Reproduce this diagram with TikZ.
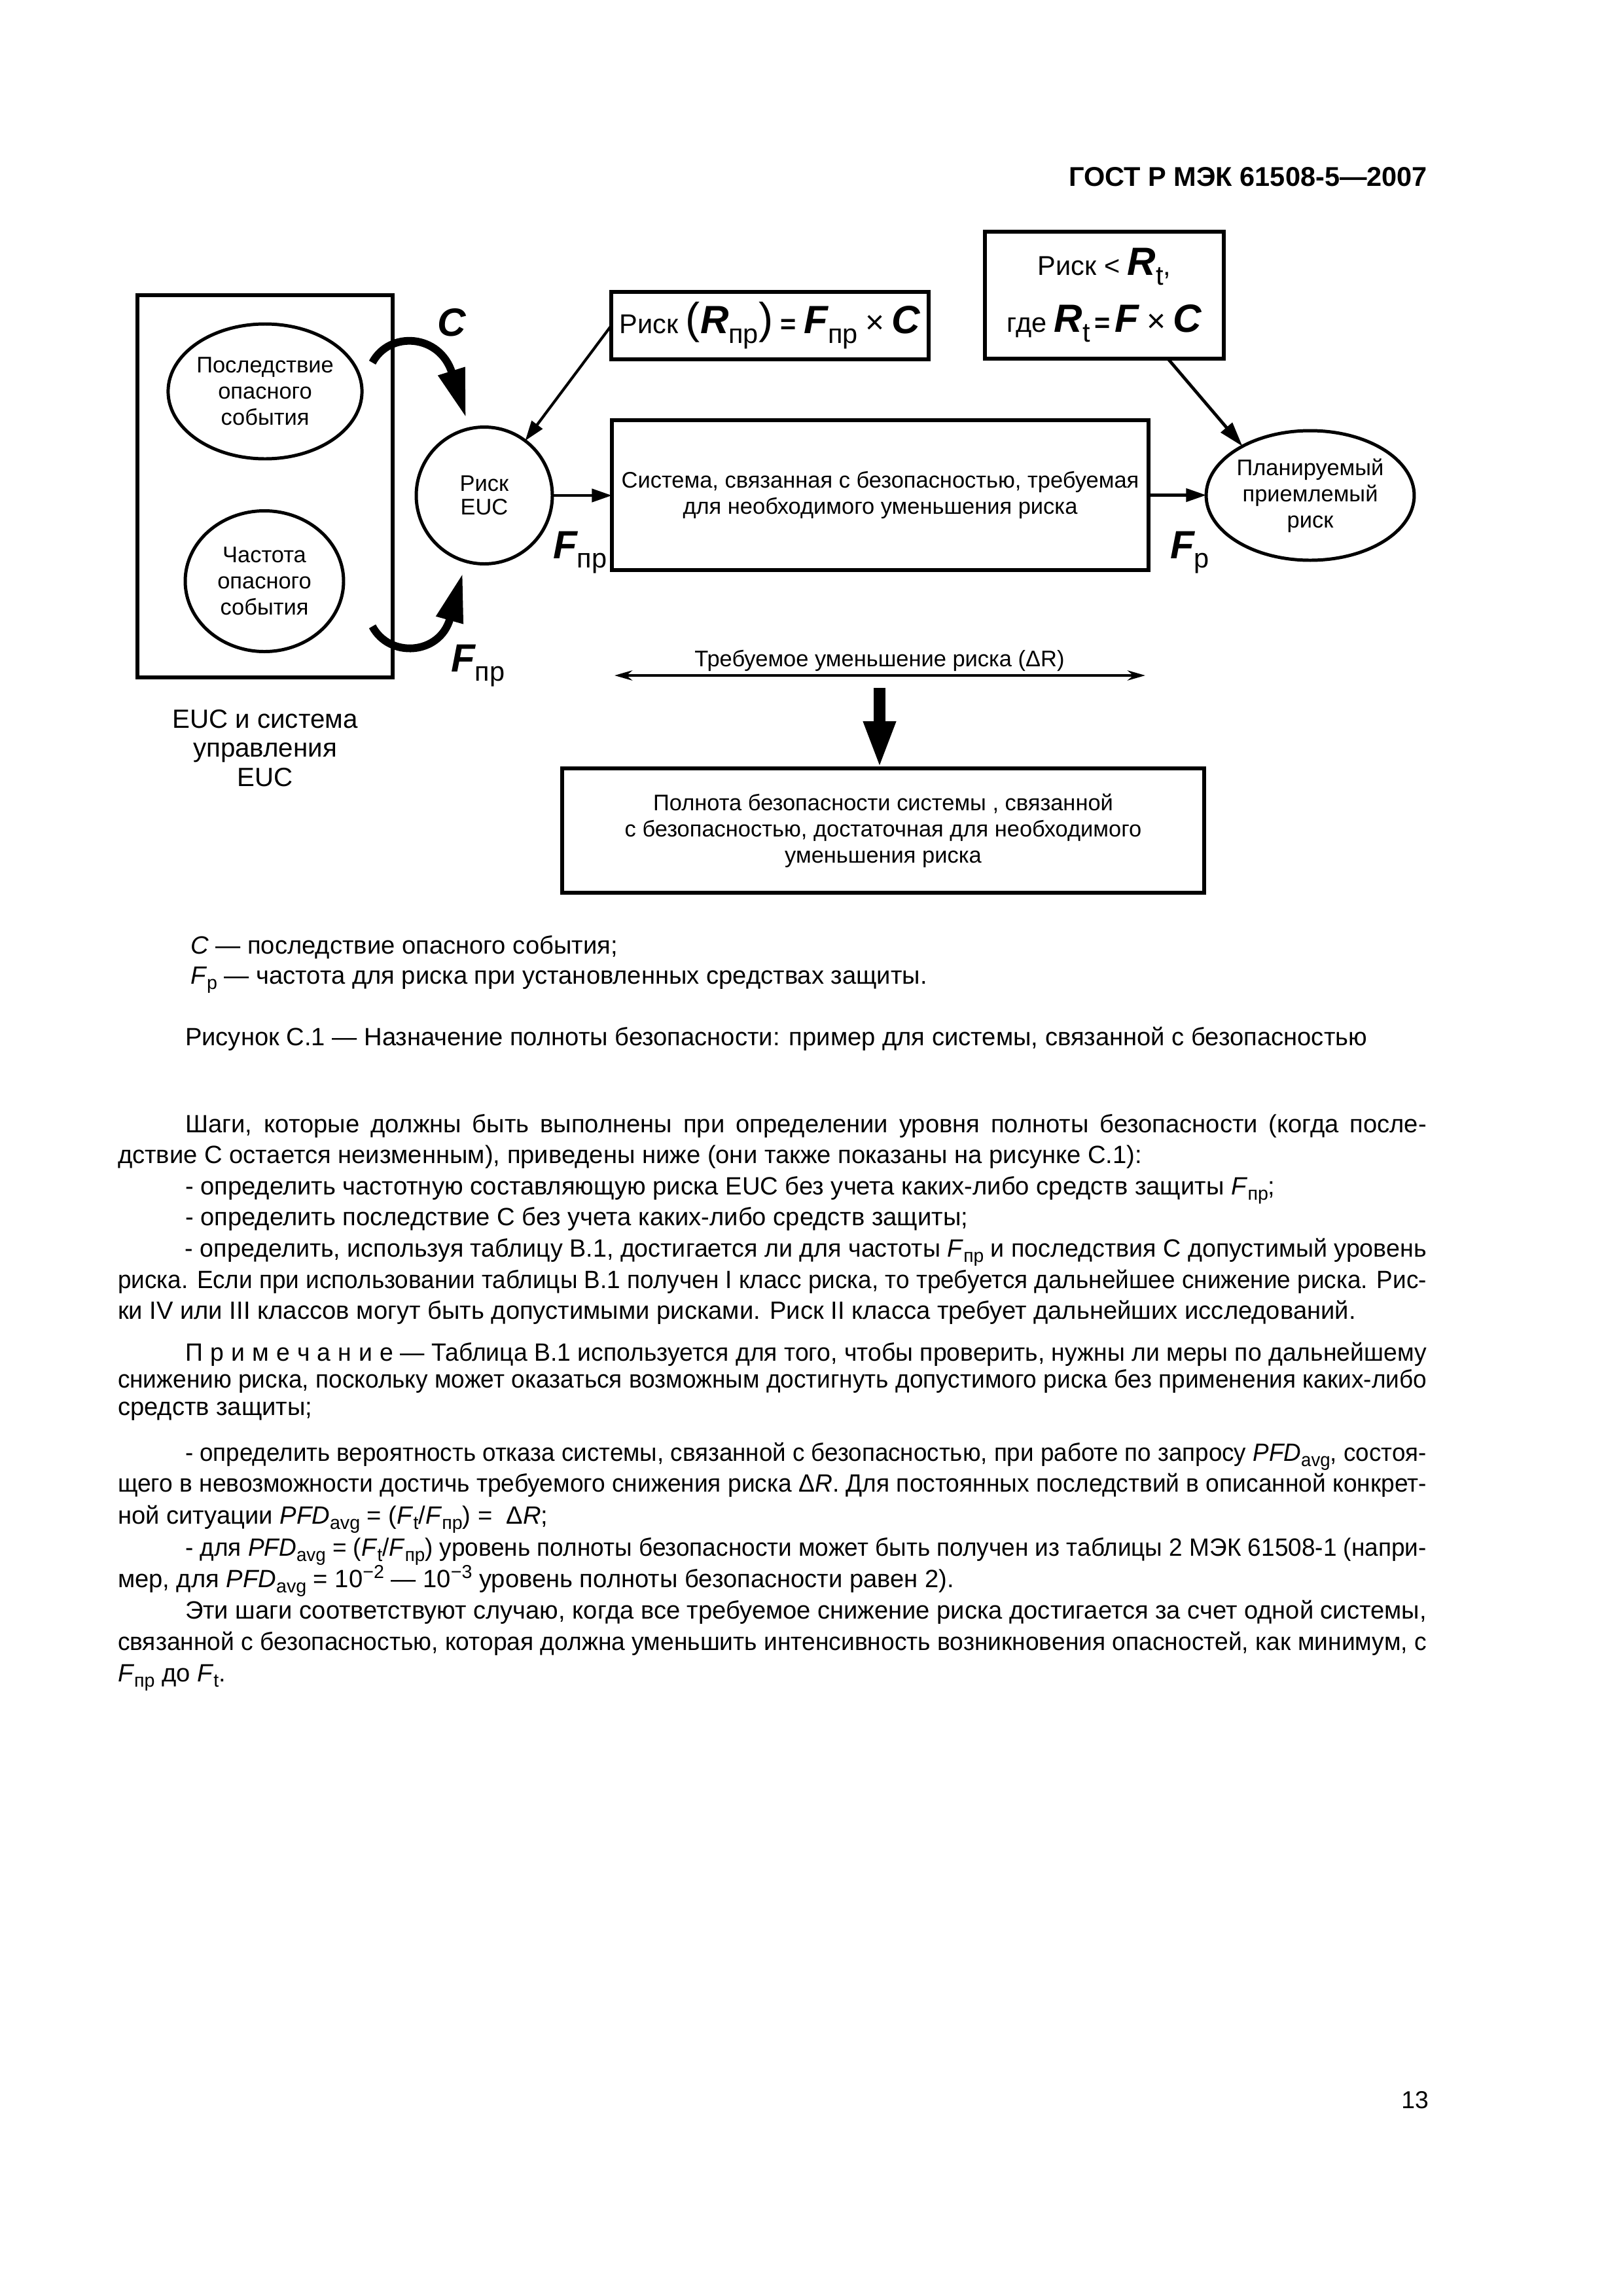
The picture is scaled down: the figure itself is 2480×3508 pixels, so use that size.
\documentclass[tikz,border=0pt]{standalone}
\usepackage{fontspec}
\setmainfont{Liberation Sans}
\usepackage{graphicx}
\usetikzlibrary{arrows.meta,shapes.geometric,calc}

\newcommand\pxu{0.0846667mm}
\newcommand\dfont{\fontsize{8.3}{9.6}\selectfont}
\newcommand\bodyfont{\fontsize{9.2}{11}\selectfont}
\newcommand\BI[1]{{\fontsize{14.5}{15}\selectfont\bfseries\itshape #1}}
\newcommand\SB[1]{\raisebox{-0.35em}{\fontsize{10}{10}\selectfont\mdseries\upshape #1}}
\newcommand\PAR[1]{{\fontsize{16}{16}\selectfont #1}}
\newcommand\lo[1]{\raisebox{-0.22em}{\fontsize{6.9}{7}\selectfont\upshape #1}}
\newcommand\hi[1]{\raisebox{0.36em}{\fontsize{6.9}{7}\selectfont\upshape #1}}
\newcommand\PRIM{П\kern0.3em р\kern0.3em и\kern0.3em м\kern0.3em е\kern0.3em ч\kern0.3em а\kern0.3em н\kern0.3em и\kern0.3em е}
\newsavebox\lbox
\newlength\fullw \setlength\fullw{169.33mm}
\newlength\indw \setlength\indw{160.6mm}
\newcommand\jline[2]{\sbox\lbox{#2}\ifdim\wd\lbox>#1\relax\resizebox{#1}{\ht\lbox}{\usebox\lbox}\else\hbox to #1{\spaceskip=0.278em plus 3em\relax #2}\fi}

\begin{document}
\begin{tikzpicture}[x=\pxu, y=-\pxu,
  every node/.style={inner sep=0pt, outer sep=0pt},
  box/.style={draw, line width=1.3pt, rectangle, align=center, font=\dfont},
  ell/.style={draw, line width=1.2pt, ellipse, align=center, font=\dfont},
  conn/.style={line width=1pt, -{Triangle[length=2.6mm, width=1.7mm]}},
  conntwo/.style={line width=1.15pt, -{Triangle[length=3.2mm, width=1.9mm]}},
  bigarc/.style={line width=1.0mm, -{Triangle[length=6.3mm, width=3.4mm]}},
  dbl/.style={line width=0.35mm, {Stealth[length=2.3mm, width=1.3mm]}-{Stealth[length=2.3mm, width=1.3mm]}},
  downarr/.style={line width=1.5mm, -{Triangle[length=6.1mm, width=3.8mm]}},
  btext/.style={anchor=base west, font=\bodyfont},
  lbl/.style={anchor=base west, font=\fontsize{10}{12}\selectfont}
]
\fill[white] (0,0) rectangle (2480,3508);
\useasboundingbox (0,0) rectangle (2480,3508);

% header
\node[anchor=base east, font=\fontsize{10}{12}\selectfont\bfseries] (hdr) at (2181,284) {ГОСТ Р МЭК 61508-5—2007};

% diagram nodes
\node[box, minimum width=390*\pxu, minimum height=584*\pxu] (euc) at (405,743) {};
\node[ell, minimum width=290*\pxu, minimum height=206*\pxu] (c1) at (405,598) {Последствие\\опасного\\события};
\node[ell, minimum width=242*\pxu, minimum height=215*\pxu] (c2) at (404,888) {Частота\\опасного\\события};
\node[ell, minimum width=208*\pxu, minimum height=209*\pxu, font=\fontsize{8.3}{8.6}\selectfont] (risk) at (740,757) {Риск\\EUC};
\node[box, minimum width=485*\pxu, minimum height=103*\pxu, font=\fontsize{10}{12}\selectfont] (fbox) at (1176.5,497.5)
  {Риск \PAR{(}\BI{R}\SB{пр}\PAR{)} \textbf{=} \BI{F}\SB{пр} {\fontsize{12}{12}\selectfont ×} \BI{C}};
\node[box, minimum width=365*\pxu, minimum height=194*\pxu, font=\fontsize{10}{21}\selectfont] (rt) at (1687.5,451)
  {Риск < \BI{R}\SB{t},\\где \BI{R}\SB{t}\,\textbf{=}\,\BI{F} {\fontsize{12}{12}\selectfont ×} \BI{C}};
\node[box, minimum width=820*\pxu, minimum height=229*\pxu] (sys) at (1345,756.5)
  {Система, связанная с безопасностью, требуемая\\для необходимого уменьшения риска};
\node[ell, minimum width=306*\pxu, minimum height=198*\pxu] (plan) at (2002,757) {Планируемый\\приемлемый\\риск};
\node[box, minimum width=981*\pxu, minimum height=190*\pxu] (bot) at (1349.5,1269)
  {Полнота безопасности системы , связанной\\с безопасностью, достаточная для необходимого\\уменьшения риска};
\node[align=center, font=\fontsize{9.7}{10.8}\selectfont] (euclbl) at (405,1143) {EUC и система\\управления\\EUC};

% labels
\node[lbl] (clab) at (668,513) {\BI{C}};
\node[lbl] (flo) at (689,1026) {\BI{F}\SB{пр}};
\node[lbl] (fsys) at (845,853) {\BI{F}\SB{пр}};
\node[lbl] (fp) at (1788,853) {\BI{F}\SB{p}};
\node[anchor=base, font=\dfont] (dRl) at (1344,1018) {Требуемое уменьшение риска (ΔR)};

% coordinates
\coordinate (a1s) at (569,554);
\coordinate (a1e) at (712,638);
\coordinate (a2s) at (569,957);
\coordinate (a2e) at (707,876);
\coordinate (dl) at (939,1032);
\coordinate (dr) at (1750,1032);
\coordinate (dtop) at (1344,1051);

% connectors
\draw[bigarc] (a1s) .. controls (595,505) and (672,510) .. (a1e);
\draw[bigarc] (a2s) .. controls (595,1006) and (672,1001) .. (a2e);
\draw[conn] (fbox.west) -- (risk);
\draw[conn] (risk.east) -- (risk.east -| sys.west);
\draw[conn] (sys.east) -- (sys.east -| plan.west);
\draw[conntwo] (rt.-45) -- (plan.144);
\draw[dbl] (dl) -- (dr);
\draw[downarr] (dtop) -- (dtop |- bot.north);

% legend and caption
\node[btext] (lg1) at (291,1457) {\textit{C} — последствие опасного события;};
\node[btext] (lg2) at (291,1503) {\textit{F}\lo{p} — частота для риска при установленных средствах защиты.};
\node[btext] (cap) at (283,1597) {Рисунок С.1 — Назначение полноты безопасности: пример для системы, связанной с безопасностью};

% body text
\node[btext] (l1) at (283,1730) {\jline{\indw}{Шаги, которые должны быть выполнены при определении уровня полноты безопасности (когда после-}};
\node[btext] (l2) at (180,1777) {дствие С остается неизменным), приведены ниже (они также показаны на рисунке С.1):};
\node[btext] (l3) at (283,1825) {- определить частотную составляющую риска EUC без учета каких-либо средств защиты \textit{F}\lo{пр};};
\node[btext] (l4) at (283,1872) {- определить последствие С без учета каких-либо средств защиты;};
\node[btext] (l5) at (283,1920) {\jline{\indw}{- определить, используя таблицу В.1, достигается ли для частоты \textit{F}\lo{пр} и последствия С допустимый уровень}};
\node[btext] (l6) at (180,1968) {\jline{\fullw}{риска. Если при использовании таблицы В.1 получен I класс риска, то требуется дальнейшее снижение риска. Рис-}};
\node[btext] (l7) at (180,2015) {ки IV или III классов могут быть допустимыми рисками. Риск II класса требует дальнейших исследований.};
\node[btext] (l8) at (283,2079) {\jline{\indw}{\PRIM{} — Таблица В.1 используется для того, чтобы проверить, нужны ли меры по дальнейшему}};
\node[btext] (l9) at (180,2120) {\jline{\fullw}{снижению риска, поскольку может оказаться возможным достигнуть допустимого риска без применения каких-либо}};
\node[btext] (l10) at (180,2162) {средств защиты;};
\node[btext] (l11) at (283,2232) {\jline{\indw}{- определить вероятность отказа системы, связанной с безопасностью, при работе по запросу \textit{PFD}\lo{avg}, состоя-}};
\node[btext] (l12) at (180,2279) {\jline{\fullw}{щего в невозможности достичь требуемого снижения риска Δ\textit{R}. Для постоянных последствий в описанной конкрет-}};
\node[btext] (l13) at (180,2328) {ной ситуации \textit{PFD}\lo{avg} = (\textit{F}\lo{t}/\textit{F}\lo{пр}) =\ \ Δ\textit{R};};
\node[btext] (l14) at (283,2377) {\jline{\indw}{- для \textit{PFD}\lo{avg} = (\textit{F}\lo{t}/\textit{F}\lo{пр}) уровень полноты безопасности может быть получен из таблицы 2 МЭК 61508-1 (напри-}};
\node[btext] (l15) at (180,2425) {мер, для \textit{PFD}\lo{avg} = 10\hi{−2} — 10\hi{−3} уровень полноты безопасности равен 2).};
\node[btext] (l16) at (283,2473) {\jline{\indw}{Эти шаги соответствуют случаю, когда все требуемое снижение риска достигается за счет одной системы,}};
\node[btext] (l17) at (180,2521) {\jline{\fullw}{связанной с безопасностью, которая должна уменьшить интенсивность возникновения опасностей, как минимум, с}};
\node[btext] (l18) at (180,2569) {\textit{F}\lo{пр} до \textit{F}\lo{t}.};

% page number
\node[anchor=base east, font=\fontsize{9}{11}\selectfont] (pg) at (2183,3221) {13};
\end{tikzpicture}
\end{document}
